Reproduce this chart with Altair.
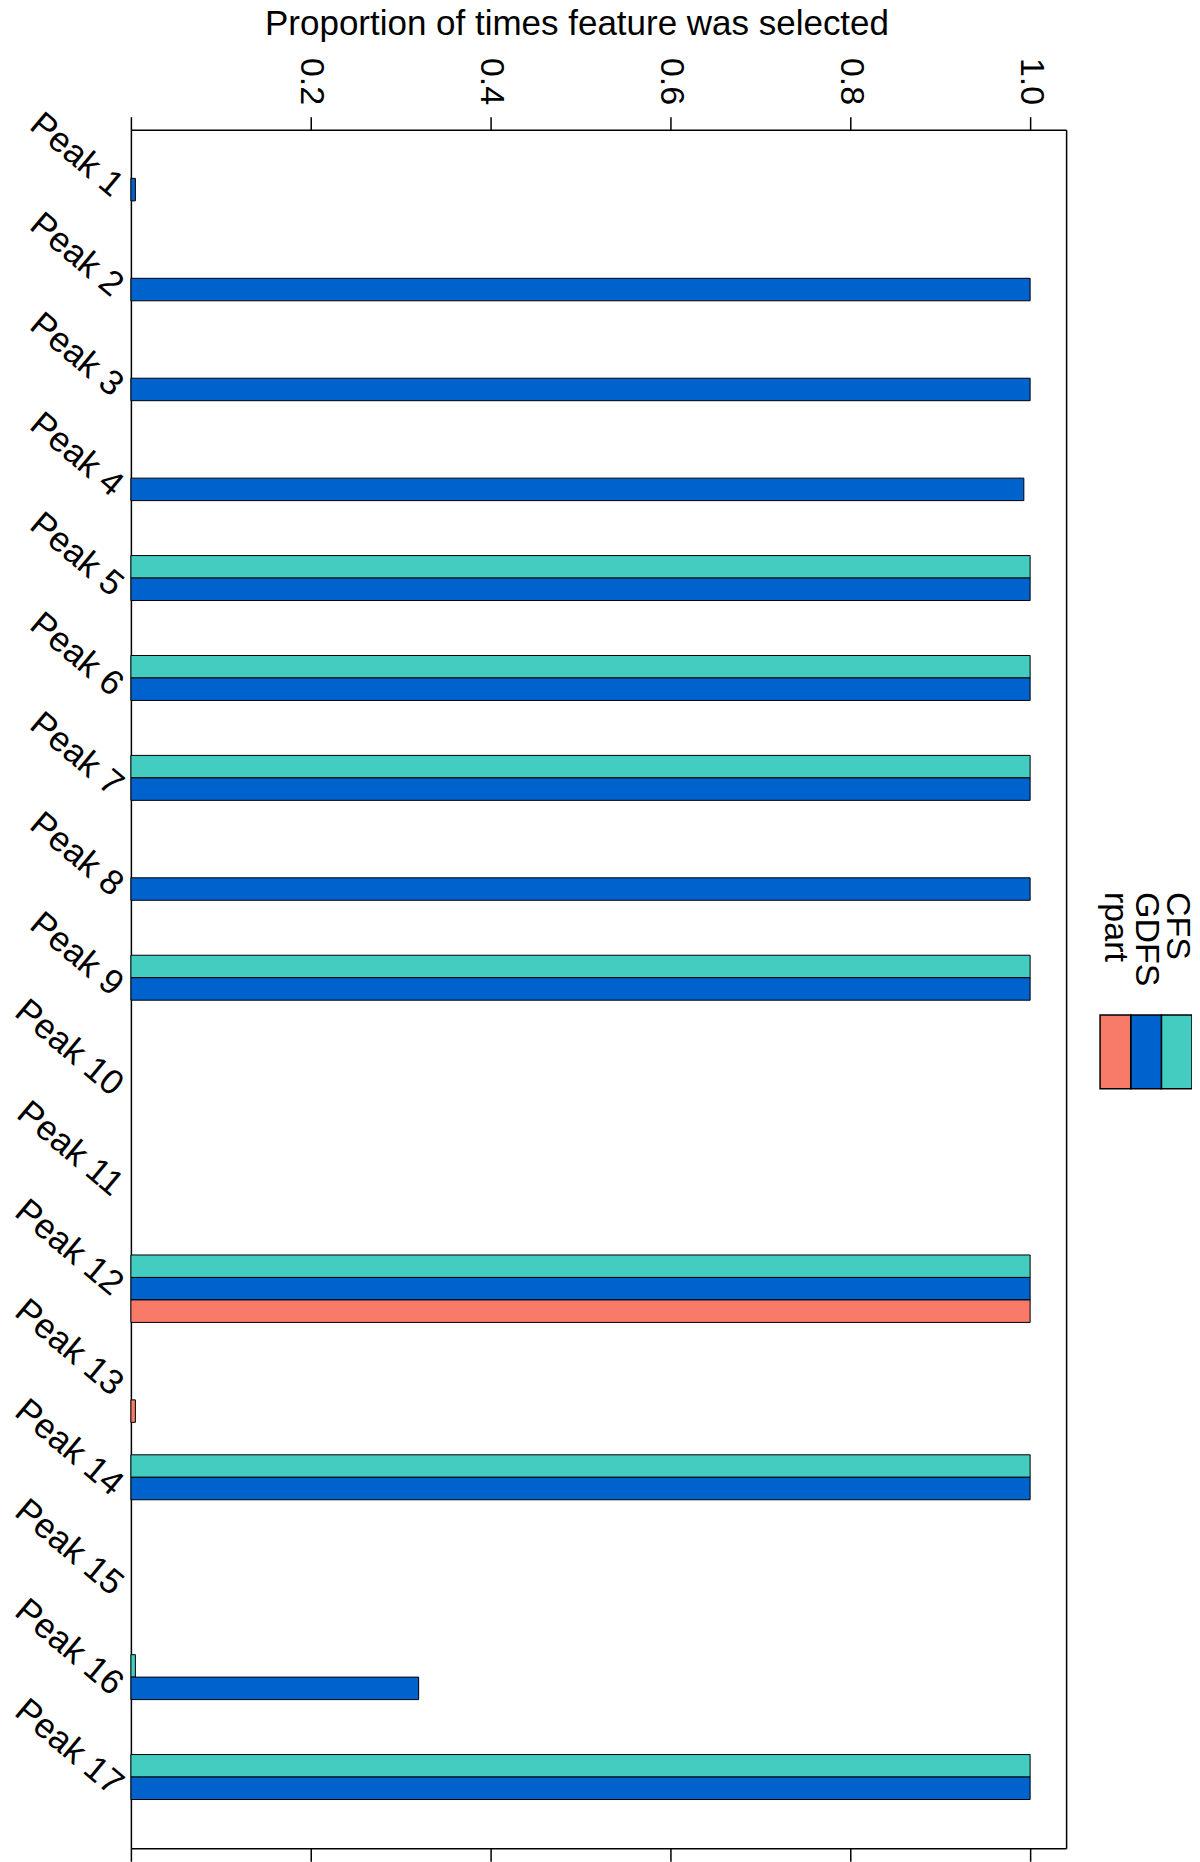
import altair as alt
import pandas as pd

peaks = ["Peak 1", "Peak 2", "Peak 3", "Peak 4", "Peak 5", "Peak 6", "Peak 7",
         "Peak 8", "Peak 9", "Peak 10", "Peak 11", "Peak 12", "Peak 13",
         "Peak 14", "Peak 15", "Peak 16", "Peak 17"]
methods = ["CFS", "GDFS", "rpart"]
cfs = [0, 0, 0, 0, 1, 1, 1, 0, 1, 0, 0, 1, 0, 1, 0, 0.005, 1]
gdfs = [0.005, 1, 1, 0.993, 1, 1, 1, 1, 1, 0, 0, 1, 0, 1, 0, 0.32, 1]
rpart = [0, 0, 0, 0, 0, 0, 0, 0, 0, 0, 0, 1, 0.005, 0, 0, 0, 0]
colors = ["#42CDC0", "#0062CC", "#F87A68"]
x_ticks = [0, 0.2, 0.4, 0.6, 0.8, 1.0]
legend_order = ["rpart", "GDFS", "CFS"]

rows = []
for m, vals in zip(methods, [cfs, gdfs, rpart]):
    for p, v in zip(peaks, vals):
        rows.append({"peak": p, "method": m, "value": v})
df = pd.DataFrame(rows)

FONT = "Liberation Sans"
xscale = alt.Scale(domain=[0, 1.04], nice=False, zero=True)
yscale = alt.Scale(paddingInner=0.325, paddingOuter=0.2625)
color_scale = alt.Scale(domain=methods, range=colors)

top_axis = alt.Axis(
    orient="top", values=x_ticks,
    labelExpr="datum.value == 0 ? '' : format(datum.value, '.1f')",
    labelAngle=90, labelAlign="right", labelBaseline="middle", labelPadding=12,
    labelFont=FONT, labelFontSize=34, labelColor="black", labelFlush=False,
    labelOverlap=False, tickSize=13, tickColor="black", tickWidth=1.5,
    domainColor="black", domainWidth=1.5, grid=False,
    title="Proportion of times feature was selected", titleFont=FONT,
    titleFontSize=35, titleFontWeight="normal", titleColor="black",
    titleX=446, titleY=-123, titleAlign="center", titleBaseline="top",
)
bottom_axis = alt.Axis(
    orient="bottom", values=x_ticks, labels=False, tickSize=13,
    tickColor="black", tickWidth=1.5, domainColor="black", domainWidth=1.5,
    grid=False, title=None,
)
left_axis = alt.Axis(
    orient="left", ticks=False, labelAngle=40, labelAlign="right",
    labelBaseline="middle", labelPadding=13, labelFont=FONT, labelFontSize=35,
    labelColor="black", labelOverlap=False, labelLimit=400,
    domainColor="black", domainWidth=1.5, grid=False, title=None,
)
right_axis = alt.Axis(
    orient="right", ticks=False, labels=False, domainColor="black",
    domainWidth=1.5, grid=False, title=None, minExtent=0,
)

bars = alt.Chart(df).transform_filter("datum.value > 0").mark_bar(
    stroke="black", strokeWidth=1
).encode(
    x=alt.X("value:Q", scale=xscale, axis=top_axis, stack=None),
    y=alt.Y("peak:N", sort=peaks, scale=yscale, axis=left_axis),
    yOffset=alt.YOffset("method:N", sort=methods,
                        scale=alt.Scale(paddingInner=0, paddingOuter=0)),
    color=alt.Color("method:N", scale=color_scale, legend=None),
)

frame = alt.Chart(df).mark_point(opacity=0).encode(
    x=alt.X("value:Q", scale=xscale, axis=bottom_axis, stack=None),
    y=alt.Y("peak:N", sort=peaks, scale=yscale, axis=right_axis),
)

main = alt.layer(bars, frame).resolve_axis(
    x="independent", y="independent"
).properties(width=936, height=1720)

leg_df = pd.DataFrame({"method": methods})
leg_x = alt.X("method:N", sort=legend_order,
              scale=alt.Scale(paddingInner=0, paddingOuter=0), axis=None)
boxes = alt.Chart(leg_df).mark_bar(stroke="black", strokeWidth=1.5).encode(
    x=leg_x, y=alt.value(886), y2=alt.value(960),
    color=alt.Color("method:N", scale=color_scale, legend=None),
)
labels = alt.Chart(leg_df).mark_text(
    angle=90, align="left", baseline="middle", font=FONT, fontSize=34,
    color="black"
).encode(x=leg_x, y=alt.value(763), text="method:N")
legend = alt.layer(boxes, labels).properties(width=92, height=1720)

chart = alt.hconcat(main, legend, spacing=32).configure_view(
    stroke=None
).properties(
    padding={"left": 0, "top": -2, "right": -2, "bottom": 0},
    background="white",
)

chart.save("out.html", embed_options={"renderer": "svg", "actions": False})
